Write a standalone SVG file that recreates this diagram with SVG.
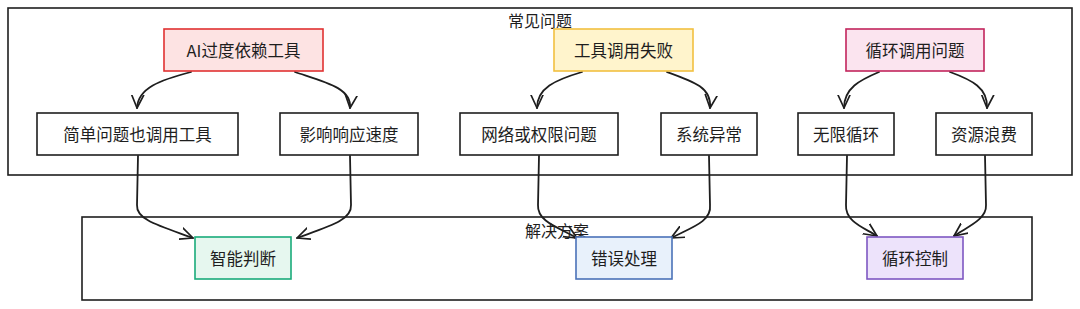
<svg xmlns="http://www.w3.org/2000/svg" width="1080" height="309" viewBox="0 0 1080 309">
<style>
text{font-family:"Noto Sans CJK SC","Noto Sans",sans-serif;fill:#1e1e1e;text-anchor:middle;dominant-baseline:central}
.t{font-size:16.5px}
.g{font-size:16px}
.box{fill:#ffffff;stroke:#1e1e1e;stroke-width:1.6}
.cont{fill:none;stroke:#1e1e1e;stroke-width:1.6}
.c{fill:none;stroke:#1e1e1e;stroke-width:1.8;stroke-linecap:round}
</style>
<defs>
<marker id="ah" viewBox="0 0 14 14" refX="13" refY="7" markerWidth="14" markerHeight="14" markerUnits="userSpaceOnUse" orient="auto">
<path d="M0,1 L13,7 L0,13" fill="none" stroke="#1e1e1e" stroke-width="1.7" stroke-linecap="round" stroke-linejoin="round"/>
</marker>
</defs>
<rect width="1080" height="309" fill="#ffffff"/>
<g id="group-problems">
<rect class="cont" x="8" y="8" width="1064" height="167"/>
<text class="g" x="540" y="20">常见问题</text>
</g>
<g id="group-solutions">
<rect class="cont" x="82" y="217" width="950" height="83"/>
<text class="g" x="557" y="230">解决方案</text>
</g>
<g id="connectors">
<path class="c" marker-end="url(#ah)" d="M191,72 C160,80 138,88 137,108"/>
<path class="c" marker-end="url(#ah)" d="M295,72 C325,82 352,88 350,108"/>
<path class="c" marker-end="url(#ah)" d="M582,72 C555,80 537,88 537,108"/>
<path class="c" marker-end="url(#ah)" d="M667,72 C695,82 712,88 710,108"/>
<path class="c" marker-end="url(#ah)" d="M879,72 C860,80 844,88 844,108"/>
<path class="c" marker-end="url(#ah)" d="M950,72 C972,80 988,88 987,108"/>
<path class="c" marker-end="url(#ah)" d="M138,156 L137,205 C136,220 160,226 193,238"/>
<path class="c" marker-end="url(#ah)" d="M350,156 L351,205 C352,220 330,226 297,238"/>
<path class="c" marker-end="url(#ah)" d="M539,156 L538,205 C537,222 560,228 577,238"/>
<path class="c" marker-end="url(#ah)" d="M709,156 L710,205 C712,222 690,228 671,238"/>
<path class="c" marker-end="url(#ah)" d="M847,156 L846,205 C845,222 865,228 877,236"/>
<path class="c" marker-end="url(#ah)" d="M985,156 L986,205 C987,220 965,228 954,236"/>
</g>
<g id="node-ai">
<rect x="164" y="29" width="159" height="42" fill="#fde3e3" stroke="#e03131" stroke-width="1.6"/>
<text class="t" x="243.5" y="50">AI过度依赖工具</text>
</g>
<g id="node-fail">
<rect x="554" y="29" width="139" height="42" fill="#fff4cc" stroke="#f2c040" stroke-width="1.6"/>
<text class="t" x="623.5" y="50">工具调用失败</text>
</g>
<g id="node-loop">
<rect x="846" y="29" width="138" height="42" fill="#fbe4ef" stroke="#c2255c" stroke-width="1.6"/>
<text class="t" x="915" y="50">循环调用问题</text>
</g>
<g id="node-simple">
<rect class="box" x="37" y="113" width="201" height="42"/>
<text class="t" x="137.5" y="134">简单问题也调用工具</text>
</g>
<g id="node-speed">
<rect class="box" x="280" y="113" width="138" height="42"/>
<text class="t" x="349" y="134">影响响应速度</text>
</g>
<g id="node-network">
<rect class="box" x="460" y="113" width="158" height="42"/>
<text class="t" x="539" y="134">网络或权限问题</text>
</g>
<g id="node-system">
<rect class="box" x="661" y="113" width="96" height="42"/>
<text class="t" x="709" y="134">系统异常</text>
</g>
<g id="node-infinite">
<rect class="box" x="798" y="113" width="96" height="42"/>
<text class="t" x="846" y="134">无限循环</text>
</g>
<g id="node-waste">
<rect class="box" x="936" y="113" width="96" height="42"/>
<text class="t" x="984" y="134">资源浪费</text>
</g>
<g id="node-smart">
<rect x="195" y="237" width="96" height="42" fill="#e6f7ef" stroke="#1aab7a" stroke-width="1.6"/>
<text class="t" x="243" y="258">智能判断</text>
</g>
<g id="node-error">
<rect x="576" y="237" width="96" height="42" fill="#e8f1fb" stroke="#4a72b8" stroke-width="1.6"/>
<text class="t" x="624" y="258">错误处理</text>
</g>
<g id="node-loopctrl">
<rect x="867" y="237" width="96" height="42" fill="#ede3fb" stroke="#7e57c2" stroke-width="1.6"/>
<text class="t" x="915" y="258">循环控制</text>
</g>
</svg>
